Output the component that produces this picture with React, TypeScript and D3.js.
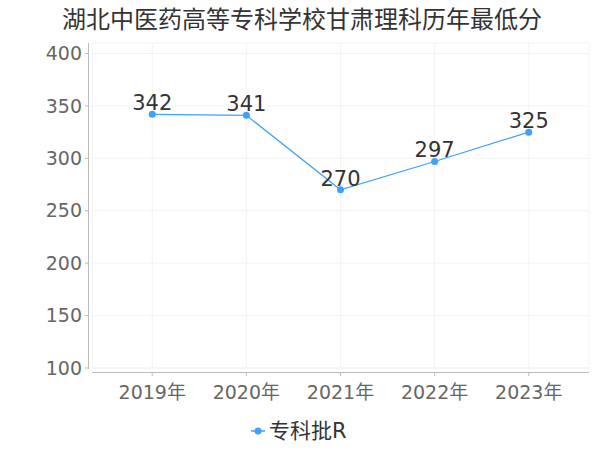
import React from "react";
import * as d3 from "d3";

const title = "湖北中医药高等专科学校甘肃理科历年最低分";
const years = ["2019年", "2020年", "2021年", "2022年", "2023年"];
const scores = [342, 341, 270, 297, 325];
const seriesName = "专科批R";
const yTicks = [100, 150, 200, 250, 300, 350, 400];

const W = 600;
const H = 450;
const plot = { left: 92, right: 589, top: 43, bottom: 368 };
const lineColor = "#3fa0ff";
const font = "'DejaVu Sans', 'Noto Sans CJK SC', sans-serif";

export default function App() {
  const x = d3.scalePoint<string>().domain(years).range([plot.left, plot.right]).padding(0.64);
  const y = d3.scaleLinear().domain([100, 400]).range([plot.bottom, 53.5]);
  const line = d3
    .line<number>()
    .x((_, i) => x(years[i]) ?? 0)
    .y((d) => y(d));

  return (
    <svg
      width={W}
      height={H}
      style={{ position: "absolute", left: 0, top: 0, background: "#fff" }}
      fontFamily={font}
    >
      <text x={302} y={28} textAnchor="middle" fontSize={24} fill="#333">
        {title}
      </text>

      {/* grid */}
      <rect x={plot.left} y={plot.top} width={plot.right - plot.left} height={plot.bottom - plot.top} fill="none" stroke="#f3f3f3" />
      {yTicks.map((t) => (
        <line key={t} x1={plot.left} x2={plot.right} y1={y(t)} y2={y(t)} stroke="#f3f3f3" />
      ))}
      {years.map((yr) => (
        <line key={yr} x1={x(yr)} x2={x(yr)} y1={plot.top} y2={plot.bottom} stroke="#f3f3f3" />
      ))}

      {/* y axis */}
      <line x1={88.5} x2={88.5} y1={plot.top} y2={plot.bottom + 1} stroke="#bbb" />
      {yTicks.map((t) => (
        <g key={t}>
          <line x1={85} x2={88.5} y1={y(t)} y2={y(t)} stroke="#bbb" />
          <text x={82} y={y(t)} dy="0.35em" textAnchor="end" fontSize={19} fill="#666">
            {t}
          </text>
        </g>
      ))}

      {/* x axis */}
      <line x1={plot.left} x2={plot.right} y1={372.5} y2={372.5} stroke="#bbb" />
      {years.map((yr) => (
        <g key={yr}>
          <line x1={x(yr)} x2={x(yr)} y1={372.5} y2={376} stroke="#bbb" />
          <text x={x(yr)} y={392} dy="0.35em" textAnchor="middle" fontSize={19} fill="#666">
            {yr}
          </text>
        </g>
      ))}

      {/* series */}
      <path d={line(scores) ?? ""} fill="none" stroke={lineColor} strokeWidth={1.2} />
      {scores.map((s, i) => (
        <g key={i}>
          <circle cx={x(years[i])} cy={y(s)} r={3.5} fill={lineColor} />
          <text x={x(years[i])} y={y(s) - 4} textAnchor="middle" fontSize={21} fill="#333">
            {s}
          </text>
        </g>
      ))}

      {/* legend */}
      <line x1={251} x2={265} y1={431} y2={431} stroke={lineColor} strokeWidth={1.5} />
      <circle cx={258} cy={431} r={3.5} fill={lineColor} />
      <text x={269} y={431} dy="0.35em" fontSize={21} fill="#333">
        {seriesName}
      </text>
    </svg>
  );
}
